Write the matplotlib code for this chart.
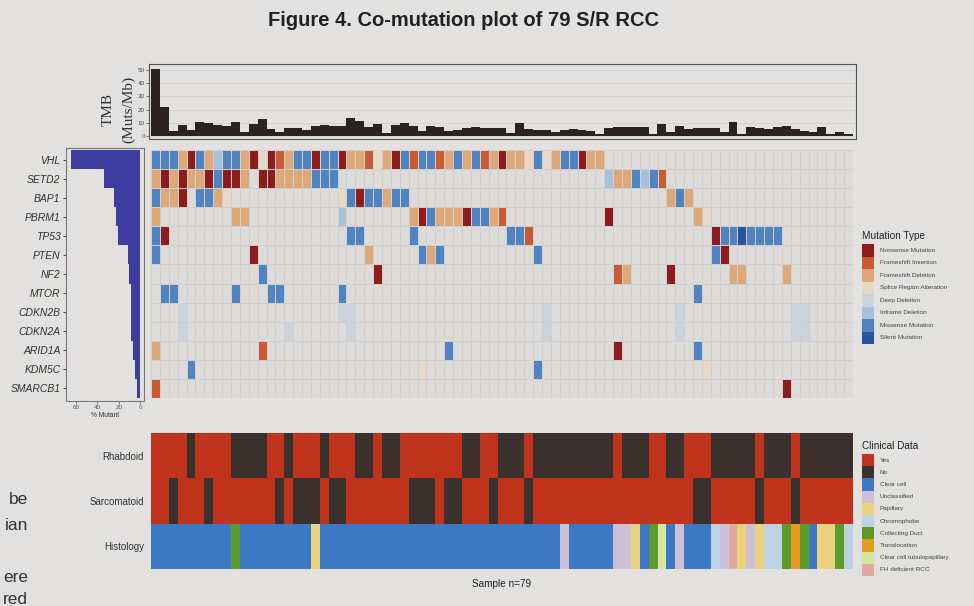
import matplotlib
matplotlib.use("Agg")
import matplotlib.pyplot as plt
import numpy as np
from matplotlib.colors import ListedColormap
from matplotlib.patches import Rectangle

plt.rcParams['font.family'] = ['Liberation Sans', 'DejaVu Sans']

W, H = 974, 606
N_SAMPLES = 79

# --- data -------------------------------------------------------------
genes = ["VHL", "SETD2", "BAP1", "PBRM1", "TP53", "PTEN", "NF2", "MTOR",
         "CDKN2B", "CDKN2A", "ARID1A", "KDM5C", "SMARCB1"]

# one character per sample, groups of 10 samples
# N nonsense, I frameshift ins, D frameshift del, S splice, X deep del,
# F inframe del, M missense, V silent, . none
mutations = [
    "MMMDNMDFMM DNSNIDMMNM MNDDISDNMI MMIDMDMIDN DDSMSDMMND D......... .......... .........",  # VHL
    "DNDNDDNMNN D.NNDDDDMM M......... .......... .......... .FDDMFMI.. .......... .........",  # SETD2
    "MDDN.MMDS. .......... .SMNMMDMM. .......... .......... ........DM D......... .........",  # BAP1
    "D........D D......... .F.......D NMDDDNMMDI .......... .N........ .DS....... .........",  # PBRM1
    "MN........ .......... ..MM.....M .......... MMI....... .......... ...NMMVMMM M........",  # TP53
    "M......... .N........ ....D..... MDM....... ...M...... .......... ...MN..... .........",  # PTEN
    ".......... ..M....... .....N.... .......... .......... ..ID....N. .....DD... .D.......",  # NF2
    ".MM......M ...MM..... .M........ .......... .......... .......... .M........ .........",  # MTOR
    "...X...... .......... .XX....... .......... ....X..... .........X .......... ..XX.....",  # CDKN2B
    "...X...... .....X.... ..X....... .......... ....X..... .........X .......... ..XX.....",  # CDKN2A
    "D......... ..I....... .......... ...M...... .......... ..N....... .M........ .........",  # ARID1A
    "....M..... .......... .......... S......... ...M...... .......... ..S....... .........",  # KDM5C
    "I......... .......... .......... .......... .......... .......... .......... .N.......",  # SMARCB1
]

mutation_codes = ["N", "I", "D", "S", "X", "F", "M", "V"]
mutation_labels = ["Nonsense Mutation", "Frameshift Insertion", "Frameshift Deletion",
                   "Splice Region Alteration", "Deep Deletion", "Inframe Deletion",
                   "Missense Mutation", "Silent Mutation"]
mutation_colors = ["#8f1c1c", "#c95a32", "#dda777", "#e8d8c6",
                   "#cdd3da", "#a8c1da", "#4f83c1", "#2b52a3"]

tmb = [51, 22, 3.8, 8.3, 4.5, 10.8, 9.6, 8.3, 7.5, 10.3,
       3.3, 9, 12.9, 5.3, 2.8, 5.8, 5.8, 4.5, 7.8, 8.3,
       7.5, 7.5, 13.4, 11.4, 6.6, 8.8, 2.5, 8.3, 9.6, 7.5,
       3.8, 7.5, 6.6, 3.8, 4.5, 5.8, 6.6, 6.3, 5.8, 5.8,
       2, 10, 5.3, 4.5, 4.5, 2.8, 4.5, 5.3, 4.5, 3.8,
       1.5, 5.8, 7, 7, 7, 7, 1.5, 9, 3.3, 7.8,
       5.3, 6.3, 6.3, 6.3, 2.8, 10.8, 1.3, 6.6, 5.8, 5.3,
       7, 7.8, 5.3, 3.8, 2.8, 7, 1.5, 3.3, 1.3]

# 1 = yes, 0 = no
rhabdoid = "1111011110 0001101110 1110010011 1111100110 0010000000 0010001100 1110000010 001000000"
sarcomatoid = "1101110111 1111010001 0011111110 0010011101 1101111111 1111111111 1001111101 110111111"
# C clear cell, U unclassified, P papillary, H chromophobe, D collecting duct,
# T translocation, Q clear cell tubulopapillary, F FH deficient
histology = "CCCCCCCCCD CCCCCCCCPC CCCCCCCCCC CCCCCCCCCC CCCCCCUCCC CCUUPCDQCU CCCHUFPUPH HDTDCPPDH"

clinical_rows = ["Rhabdoid", "Sarcomatoid", "Histology"]
clinical_labels = ["Yes", "No", "Clear cell", "Unclassified", "Papillary", "Chromophobe",
                   "Collecting Duct", "Translocation", "Clear cell tubulopapillary",
                   "FH deficient RCC"]
clinical_colors = ["#c0331d", "#3a302d", "#3c78c3", "#cdc0d6", "#e9d17e", "#bcd3e4",
                   "#5a9b2c", "#e39b20", "#d6e5a0", "#e0aaa3"]
histology_codes = ["C", "U", "P", "H", "D", "T", "Q", "F"]

# --- build matrices ---------------------------------------------------
mut_matrix = np.zeros((len(genes), N_SAMPLES), dtype=int)
for r, row in enumerate(mutations):
    row = row.replace(" ", "")
    for c, ch in enumerate(row):
        if ch != ".":
            mut_matrix[r, c] = mutation_codes.index(ch) + 1
pct_mutant = (mut_matrix > 0).sum(axis=1) / N_SAMPLES * 100

clin_matrix = np.zeros((3, N_SAMPLES), dtype=int)
for c, ch in enumerate(rhabdoid.replace(" ", "")):
    clin_matrix[0, c] = 0 if ch == "1" else 1
for c, ch in enumerate(sarcomatoid.replace(" ", "")):
    clin_matrix[1, c] = 0 if ch == "1" else 1
for c, ch in enumerate(histology.replace(" ", "")):
    clin_matrix[2, c] = 2 + histology_codes.index(ch)

# --- figure -----------------------------------------------------------
bg = "#e2e1df"
fig = plt.figure(figsize=(W / 100, H / 100), dpi=100, facecolor=bg)


def add_px_axes(x0, y0, x1, y1):
    return fig.add_axes([x0 / W, 1 - y1 / H, (x1 - x0) / W, (y1 - y0) / H])


# TMB panel
ax_tmb = add_px_axes(149, 64, 856, 139)
ax_tmb.set_facecolor(bg)
ax_tmb.bar(np.arange(N_SAMPLES) + 0.5, tmb, width=1.0, color="#2a2321", zorder=3)
ax_tmb.set_xlim(-0.225, 79.34)
ax_tmb.set_ylim(-2.3, 54.5)
ax_tmb.set_yticks([0, 10, 20, 30, 40, 50])
ax_tmb.tick_params(axis="y", labelsize=4.5, length=2, width=0.5, pad=1, colors="#444")
ax_tmb.set_xticks([])
ax_tmb.grid(axis="y", color="#d2d1cf", linewidth=0.6, zorder=0)
for sp in ax_tmb.spines.values():
    sp.set_color("#555")
    sp.set_linewidth(0.8)

# mutation grid
ax_grid = add_px_axes(151, 150, 853, 398)
cmap_mut = ListedColormap(["#dcdbd9"] + mutation_colors)
ax_grid.pcolormesh(np.arange(N_SAMPLES + 1), np.arange(len(genes) + 1), mut_matrix,
                   cmap=cmap_mut, vmin=-0.5, vmax=len(mutation_codes) + 0.5,
                   edgecolors="#d0cfcd", linewidth=0.6)
ax_grid.set_xlim(0, N_SAMPLES)
ax_grid.set_ylim(len(genes), 0)
ax_grid.axis("off")

# % mutant bars
ax_bar = add_px_axes(66, 148, 144, 401)
ax_bar.set_facecolor(bg)
ax_bar.barh(np.arange(len(genes)) + 0.5, pct_mutant, height=1.0, color="#3d3d9f")
ax_bar.set_xlim(69.4, -3.75)
ax_bar.set_ylim(13.157, -0.105)
ax_bar.set_yticks(np.arange(len(genes)) + 0.5)
ax_bar.set_yticklabels(genes, fontstyle="italic", fontsize=7.5, color="#333")
ax_bar.tick_params(axis="y", length=2, width=0.5, pad=2)
ax_bar.set_xticks([60, 40, 20, 0])
ax_bar.tick_params(axis="x", labelsize=4.5, length=2, width=0.5, pad=1, colors="#555")
ax_bar.set_xlabel("% Mutant", fontsize=4.8, labelpad=1, color="#333")
for sp in ax_bar.spines.values():
    sp.set_color("#777")
    sp.set_linewidth(0.8)

# clinical panel
ax_clin = add_px_axes(151, 433, 853, 569)
cmap_clin = ListedColormap(clinical_colors)
ax_clin.pcolormesh(np.arange(N_SAMPLES + 1), np.arange(4), clin_matrix,
                   cmap=cmap_clin, vmin=-0.5, vmax=len(clinical_colors) - 0.5)
ax_clin.set_xlim(0, N_SAMPLES)
ax_clin.set_ylim(3, 0)
ax_clin.set_yticks([0.5, 1.5, 2.5])
ax_clin.set_yticklabels(clinical_rows, fontsize=7, color="#333")
ax_clin.tick_params(axis="y", length=0, pad=5)
ax_clin.set_xticks([])
ax_clin.set_xlabel("Sample n=79", fontsize=7.2, color="#222", labelpad=7)
for sp in ax_clin.spines.values():
    sp.set_visible(False)

# overlay for titles and legends, in pixel units
ov = fig.add_axes([0, 0, 1, 1])
ov.set_xlim(0, W)
ov.set_ylim(H, 0)
ov.axis("off")
ov.patch.set_alpha(0)

ov.text(463, 20, "Figure 4. Co-mutation plot of 79 S/R RCC", ha="center", va="center",
        fontsize=14.5, fontweight="bold", color="#222")
ov.text(108, 110, "TMB", rotation=90, ha="center", va="center", fontsize=11,
        family="Liberation Serif", color="#333")
ov.text(129, 109, "(Muts/Mb)", rotation=90, ha="center", va="center", fontsize=11,
        family="Liberation Serif", color="#333")


def draw_legend(x, y, title, labels, colors, step):
    ov.text(x, y, title, ha="left", va="center", fontsize=7.2, color="#222")
    top = y + 8
    for i, (lab, col) in enumerate(zip(labels, colors)):
        ov.add_patch(Rectangle((x, top + i * step), 12, step, facecolor=col,
                               edgecolor="none"))
        ov.text(x + 18, top + i * step + step / 2, lab, ha="left", va="center",
                fontsize=4.6, color="#444")


draw_legend(862, 236, "Mutation Type", mutation_labels, mutation_colors, 12.5)
draw_legend(862, 446, "Clinical Data", clinical_labels, clinical_colors, 12.2)

# fragments of the neighbouring poster column
for txt, yy in [("be", 500), ("ian", 525), ("ere", 578), ("red", 599)]:
    ov.text(28, yy, txt, ha="right", va="center", fontsize=12.5, color="#333")

fig.savefig("out.png", dpi=100, facecolor=bg)
